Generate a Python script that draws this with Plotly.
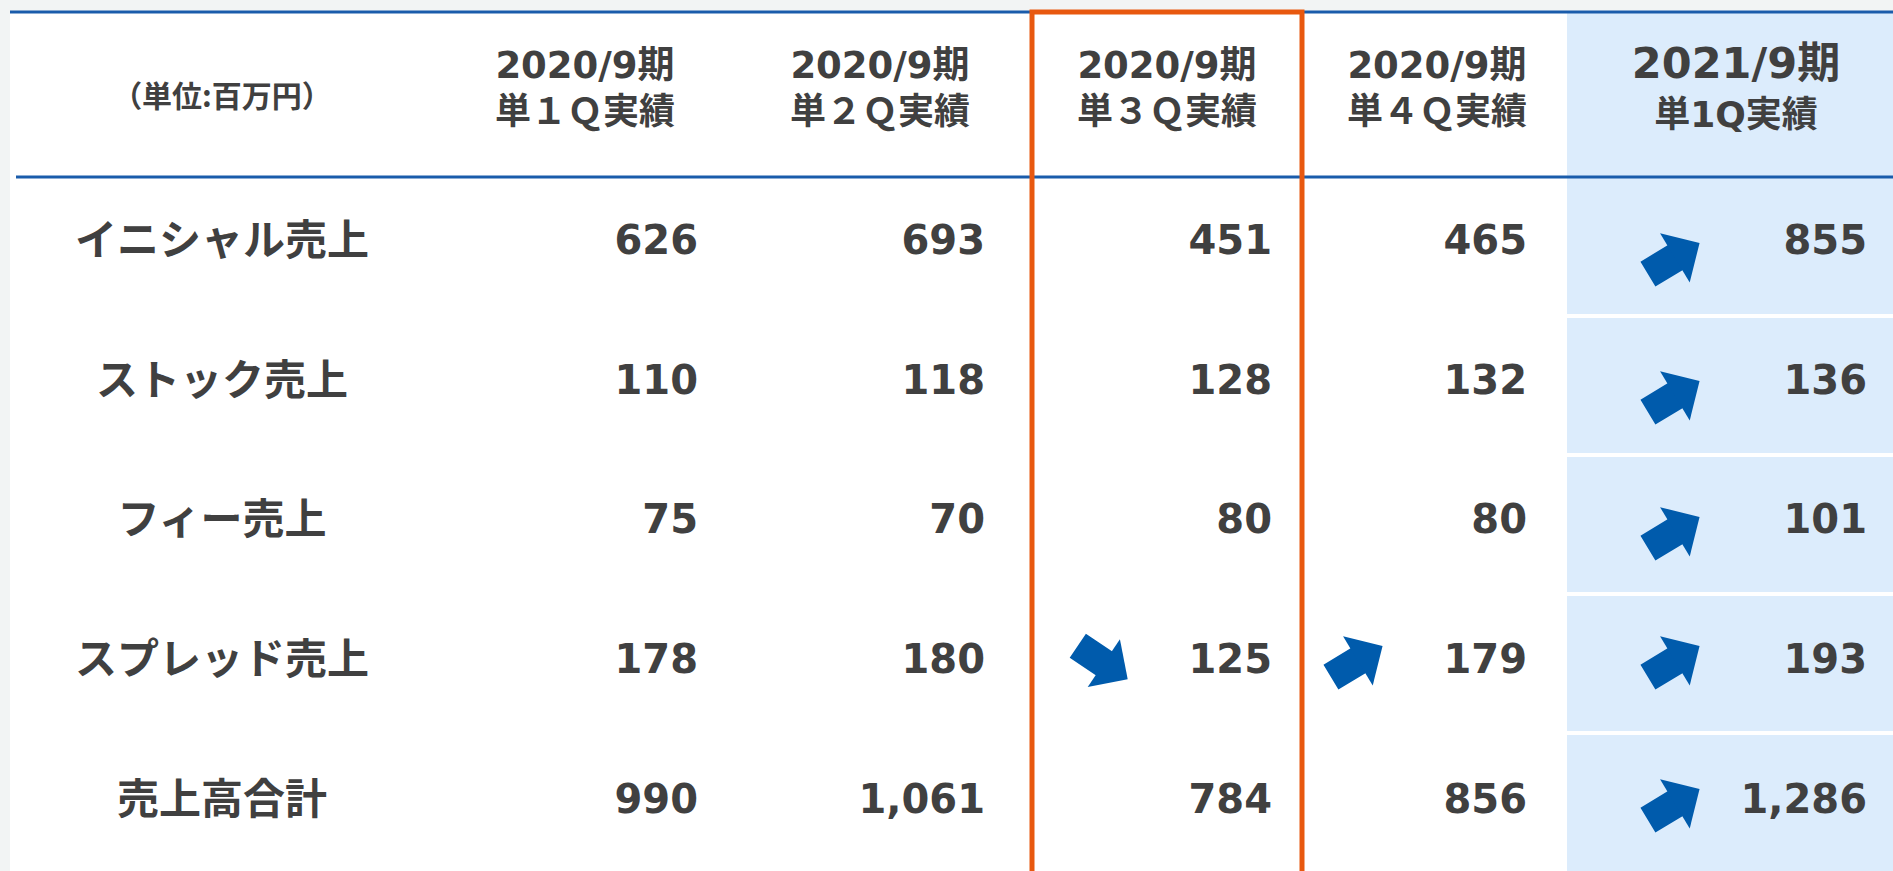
import math
import plotly.graph_objects as go

# ---------------- data ----------------
row_labels = ["イニシャル売上", "ストック売上", "フィー売上", "スプレッド売上", "売上高合計"]
unit_label = "（単位:百万円）"
period_line1 = ["2020/9期", "2020/9期", "2020/9期", "2020/9期", "2021/9期"]
period_line2 = ["単１Ｑ実績", "単２Ｑ実績", "単３Ｑ実績", "単４Ｑ実績", "単1Q実績"]

q1_2020 = [626, 110, 75, 178, 990]
q2_2020 = [693, 118, 70, 180, 1061]
q3_2020 = [451, 128, 80, 125, 784]
q4_2020 = [465, 132, 80, 179, 856]
q1_2021 = [855, 136, 101, 193, 1286]

trend_q1_2020 = ["", "", "", "", ""]
trend_q2_2020 = ["", "", "", "", ""]
trend_q3_2020 = ["", "", "", "down", ""]
trend_q4_2020 = ["", "", "", "up", ""]
trend_q1_2021 = ["up", "up", "up", "up", "up"]

columns = [q1_2020, q2_2020, q3_2020, q4_2020, q1_2021]
trends = [trend_q1_2020, trend_q2_2020, trend_q3_2020, trend_q4_2020, trend_q1_2021]

# ---------------- layout constants (pixels) ----------------
W, H = 1893, 871
row_y = [244, 384, 523, 663, 803]
arrow_y = [259, 397, 533, 662, 805]
value_right = [698, 985, 1272, 1527, 1867]
header_x = [585, 880, 1167, 1437, 1736]
header_y1 = [69, 69, 69, 69, 67]
header_y2 = [115, 115, 115, 115, 118]
header_size1 = [37, 37, 37, 37, 43]
header_size2 = [36, 36, 36, 36, 36]
arrow_x = [None, None, 1102, 1356, 1673]
label_x = 222
unit_xy = (222, 99)

TABLE_LEFT, TABLE_TOP = 10, 11
HILITE_LEFT = 1567
HEADER_LINE_Y = 177
sep_y = [316, 455, 594, 733]
orange_x = (1032, 1302)

TXT = "#404040"
BLUE_LINE = "#1a5cab"
ARROW_BLUE = "#005bac"
ORANGE = "#e8580f"
LIGHT_BLUE = "#dcecfc"
GRAY_BG = "#f2f4f4"

CJK = "Noto Sans CJK JP"
NUM = "DejaVu Sans, Noto Sans CJK JP"

ARROW_LEN = 62
SHAFT_W = 29
HEAD_SCALE = 9.6  # arrowhead 1: length 3*scale, width 6*scale

fig = go.Figure()

# row labels
fig.add_trace(go.Scatter(
    x=[label_x] * len(row_labels), y=row_y, mode="text", text=row_labels,
    textposition="middle center",
    textfont=dict(family=CJK, size=42, color=TXT, weight="bold"),
    hoverinfo="skip"))

# unit label
fig.add_trace(go.Scatter(
    x=[unit_xy[0]], y=[unit_xy[1]], mode="text", text=[unit_label],
    textposition="middle center",
    textfont=dict(family=CJK, size=30, color=TXT, weight="bold"),
    hoverinfo="skip"))

# headers
for i in range(5):
    fig.add_trace(go.Scatter(
        x=[header_x[i], header_x[i]], y=[header_y1[i], header_y2[i]], mode="text",
        text=[period_line1[i], period_line2[i]], textposition="middle center",
        textfont=dict(family=NUM, size=[header_size1[i], header_size2[i]], color=TXT, weight="bold"),
        hoverinfo="skip"))

# values
for i, col in enumerate(columns):
    fig.add_trace(go.Scatter(
        x=[value_right[i]] * len(col), y=row_y, mode="text",
        text=[f"{v:,}" for v in col], textposition="middle left",
        textfont=dict(family=NUM, size=40, color=TXT, weight="bold"),
        hoverinfo="skip"))


def add_arrow(cx, cy, direction):
    th = math.radians(31 if direction == "up" else -34)
    ux, uy = math.cos(th), -math.sin(th)
    half = ARROW_LEN / 2
    head_len = 3 * HEAD_SCALE
    tip = (cx + half * ux, cy + half * uy)
    ext = half - head_len + 5
    e = (cx + ext * ux, cy + ext * uy)
    back = half + ext
    fig.add_annotation(x=e[0], y=e[1], ax=-back * ux, ay=-back * uy,
                       axref="pixel", ayref="pixel", text="", showarrow=True,
                       arrowhead=0, arrowwidth=SHAFT_W, arrowcolor=ARROW_BLUE)
    fig.add_annotation(x=tip[0], y=tip[1], ax=-22 * ux, ay=-22 * uy,
                       axref="pixel", ayref="pixel", text="", showarrow=True,
                       arrowhead=1, arrowwidth=1, arrowsize=HEAD_SCALE,
                       arrowcolor=ARROW_BLUE)


for ci, tr in enumerate(trends):
    for ri, t in enumerate(tr):
        if t:
            add_arrow(arrow_x[ci], arrow_y[ri], t)

shapes = [
    dict(type="rect", x0=TABLE_LEFT, x1=W + 5, y0=TABLE_TOP, y1=H + 5,
         fillcolor="white", line=dict(width=0), layer="below"),
    dict(type="rect", x0=HILITE_LEFT, x1=W + 5, y0=TABLE_TOP, y1=H + 5,
         fillcolor=LIGHT_BLUE, line=dict(width=0), layer="below"),
]
for sy in sep_y:
    shapes.append(dict(type="line", x0=HILITE_LEFT, x1=W + 5, y0=sy, y1=sy,
                       line=dict(color="white", width=4), layer="below"))
shapes += [
    dict(type="line", x0=TABLE_LEFT, x1=W + 5, y0=TABLE_TOP + 1, y1=TABLE_TOP + 1,
         line=dict(color=BLUE_LINE, width=3), layer="below"),
    dict(type="line", x0=16, x1=W + 5, y0=HEADER_LINE_Y, y1=HEADER_LINE_Y,
         line=dict(color=BLUE_LINE, width=3), layer="below"),
    dict(type="rect", x0=orange_x[0], x1=orange_x[1], y0=TABLE_TOP + 1, y1=H + 20,
         line=dict(color=ORANGE, width=5), fillcolor="rgba(0,0,0,0)", layer="above"),
]

fig.update_layout(
    width=W, height=H, autosize=False,
    margin=dict(l=0, r=0, t=0, b=0, pad=0),
    paper_bgcolor=GRAY_BG, plot_bgcolor=GRAY_BG,
    showlegend=False, shapes=shapes,
    xaxis=dict(range=[0, W], visible=False, fixedrange=True),
    yaxis=dict(range=[H, 0], visible=False, fixedrange=True),
)

fig.write_html("out.html", config={"displayModeBar": False},
               post_script="document.body.style.margin='0';document.body.style.overflow='hidden';")
